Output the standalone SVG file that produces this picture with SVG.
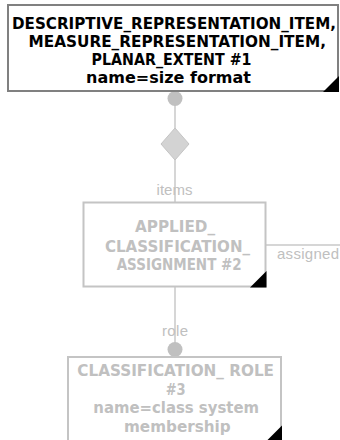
<svg xmlns="http://www.w3.org/2000/svg" width="340" height="440" viewBox="0 0 340 440">
  <style>
    .box { fill: #ffffff; stroke-width: 2; }
    .active { stroke: #808080; }
    .faded { stroke: #c4c4c4; }
    .corner { fill: #000000; }
    .title { font-family: "DejaVu Sans", Verdana, sans-serif; font-weight: bold; font-size: 15px; }
    .dark { fill: #000000; }
    .light { fill: #c0c0c0; }
    .wire { stroke: #c8c8c8; stroke-width: 1.5; fill: none; }
    .dot { fill: #c0c0c0; }
    .agg { fill: #d3d3d3; stroke: #c4c4c4; stroke-width: 1; }
    .role { font-family: "Liberation Sans", Arial, sans-serif; font-size: 15px; fill: #c0c0c0; }
  </style>

  <g id="connectors">
    <line class="wire" x1="175" y1="98" x2="175" y2="203"/>
    <line class="wire" x1="175" y1="287" x2="175" y2="349"/>
    <line class="wire" x1="266" y1="245" x2="340" y2="245"/>
    <circle class="dot" cx="175" cy="98.5" r="7.5"/>
    <polygon class="agg" points="175,128 189,144 175,160 161,144"/>
    <circle class="dot" cx="175" cy="349.5" r="7.5"/>
    <text class="role" x="156.5" y="195" textLength="36">items</text>
    <text class="role" x="162" y="336" textLength="26">role</text>
    <text class="role" x="277" y="259" textLength="62">assigned</text>
  </g>

  <g id="node1">
    <rect class="box active" x="8" y="5" width="330" height="86"/>
    <polygon class="corner" points="339,76 339,92 323,92"/>
    <text class="title dark" x="12" y="28.5" textLength="324" lengthAdjust="spacingAndGlyphs">DESCRIPTIVE_REPRESENTATION_ITEM,</text>
    <text class="title dark" x="28.5" y="46.5" textLength="297.5" lengthAdjust="spacingAndGlyphs">MEASURE_REPRESENTATION_ITEM,</text>
    <text class="title dark" x="91.5" y="65" textLength="160" lengthAdjust="spacingAndGlyphs">PLANAR_EXTENT #1</text>
    <text class="title dark" x="86" y="83" textLength="165" lengthAdjust="spacingAndGlyphs">name=size format</text>
  </g>

  <g id="node2">
    <rect class="box faded" x="83.5" y="202.5" width="182" height="84"/>
    <polygon class="corner" points="266.5,271 266.5,287.5 250,287.5"/>
    <text class="title light" x="135" y="232.3" textLength="80" lengthAdjust="spacingAndGlyphs">APPLIED_</text>
    <text class="title light" x="105" y="251.5" textLength="145" lengthAdjust="spacingAndGlyphs">CLASSIFICATION_</text>
    <text class="title light" x="116.7" y="270" textLength="125" lengthAdjust="spacingAndGlyphs">ASSIGNMENT #2</text>
  </g>

  <g id="node3">
    <rect class="box faded" x="68" y="357" width="213" height="84"/>
    <polygon class="corner" points="282,425.5 282,442 265.5,442"/>
    <text class="title light" x="77.3" y="375.7" textLength="196.7" lengthAdjust="spacingAndGlyphs">CLASSIFICATION_ ROLE</text>
    <text class="title light" x="165.7" y="395" textLength="20" lengthAdjust="spacingAndGlyphs">#3</text>
    <text class="title light" x="93.3" y="413.3" textLength="165.7" lengthAdjust="spacingAndGlyphs">name=class system</text>
    <text class="title light" x="124" y="432" textLength="106.7" lengthAdjust="spacingAndGlyphs">membership</text>
  </g>
</svg>
